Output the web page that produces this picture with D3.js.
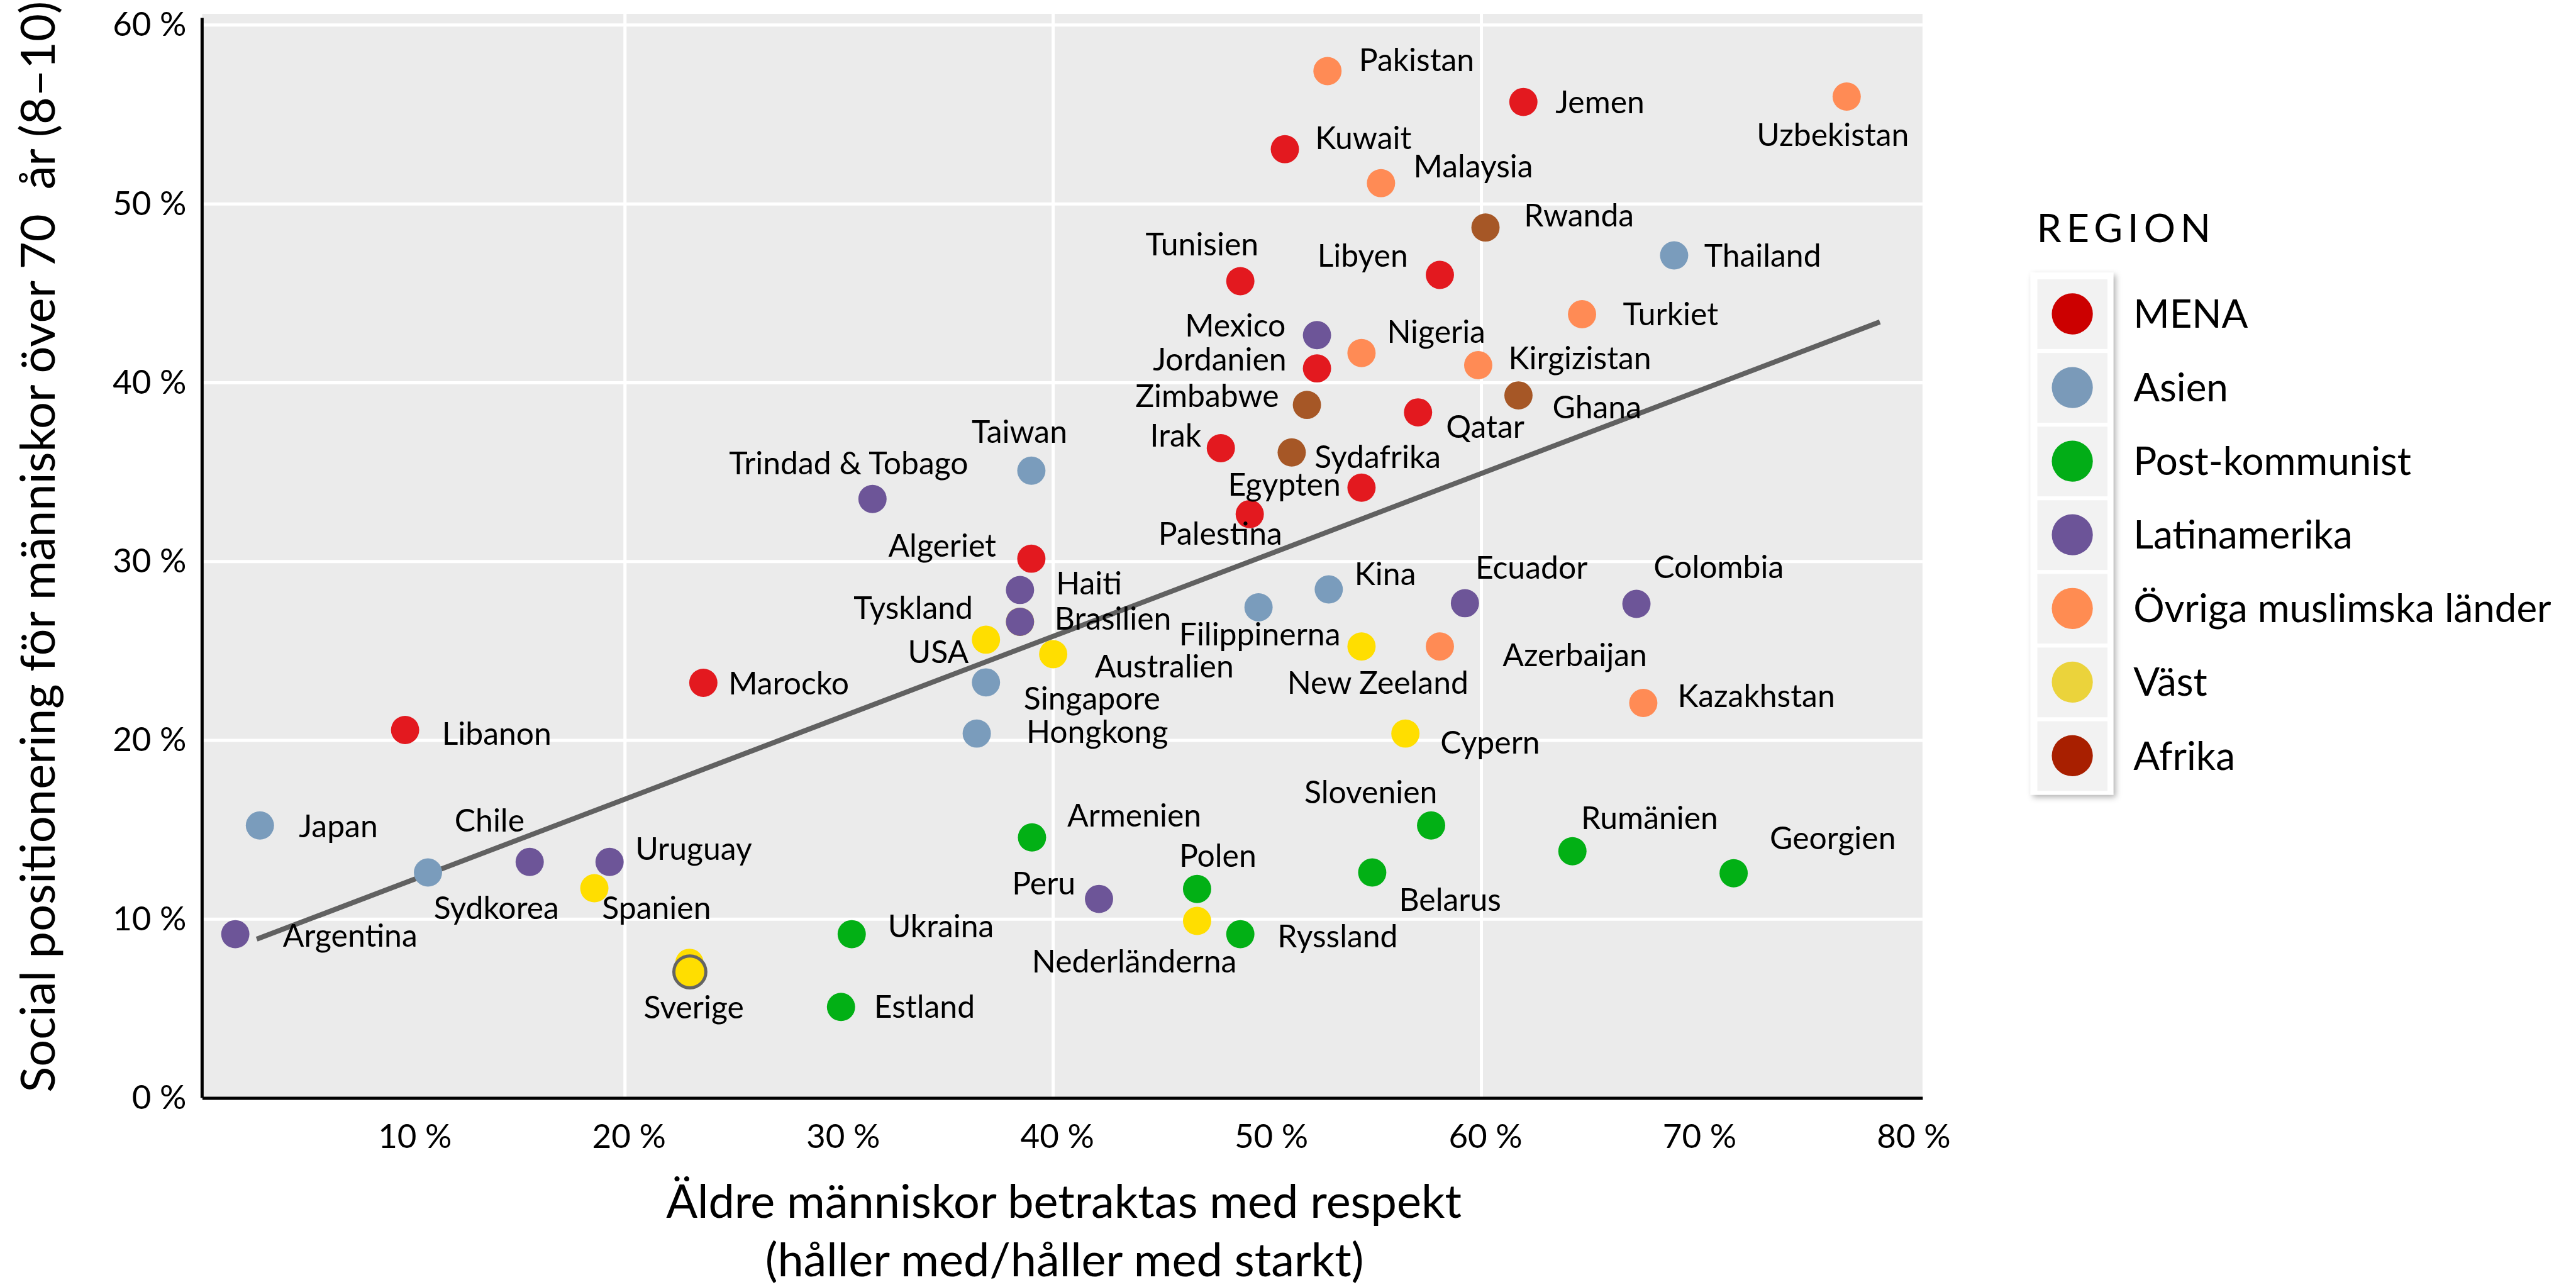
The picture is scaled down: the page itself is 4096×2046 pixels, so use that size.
<!DOCTYPE html>
<html>
<head>
<meta charset="utf-8">
<script src="https://cdn.jsdelivr.net/npm/d3@7"></script>
<style>
  body { margin: 0; background: #fff; }
  text { font-family: Lato, "Open Sans", sans-serif; fill: #000; }
</style>
</head>
<body>
<script>
// regions, legend order
var regions = ["MENA", "Asien", "Post-kommunist", "Latinamerika", "Övriga muslimska länder", "Väst", "Afrika"];
var pointColors = ["#e3191f", "#7a9cbc", "#02b015", "#6d5598", "#ff8b55", "#ffde00", "#a65726"];
var legendColors = ["#cc0000", "#7a9ab9", "#02ad17", "#6c5498", "#ff8c52", "#ebd33b", "#a81f00"];

// countries (Väst first so it sits underneath)
var countries = ["Tyskland", "USA", "Australien", "New Zeeland", "Cypern", "Spanien", "Nederländerna", "Sverige",
  "Kuwait", "Jemen", "Tunisien", "Libyen", "Jordanien", "Qatar", "Irak", "Egypten", "Palestina", "Algeriet", "Marocko", "Libanon",
  "Thailand", "Taiwan", "Filippinerna", "Kina", "Singapore", "Hongkong", "Japan", "Sydkorea",
  "Slovenien", "Armenien", "Rumänien", "Georgien", "Belarus", "Polen", "Ryssland", "Ukraina", "Estland",
  "Mexico", "Trindad & Tobago", "Haiti", "Brasilien", "Ecuador", "Colombia", "Peru", "Chile", "Uruguay", "Argentina",
  "Pakistan", "Uzbekistan", "Malaysia", "Turkiet", "Nigeria", "Kirgizistan", "Azerbaijan", "Kazakhstan",
  "Rwanda", "Zimbabwe", "Sydafrika", "Ghana"];
var regionOf = [5, 5, 5, 5, 5, 5, 5, 5,
  0, 0, 0, 0, 0, 0, 0, 0, 0, 0, 0, 0,
  1, 1, 1, 1, 1, 1, 1, 1,
  2, 2, 2, 2, 2, 2, 2, 2, 2,
  3, 3, 3, 3, 3, 3, 3, 3, 3, 3,
  4, 4, 4, 4, 4, 4, 4, 4,
  6, 6, 6, 6];
// x: äldre betraktas med respekt (%)
var respekt = [38.45, 36.86, 40.00, 54.40, 56.45, 18.57, 46.72, 23.01,
  50.82, 61.96, 48.74, 58.06, 52.32, 57.04, 47.83, 54.40, 49.18, 38.98, 23.66, 9.73,
  69.00, 38.98, 49.59, 52.87, 36.86, 36.43, 2.95, 10.80,
  57.65, 39.01, 64.25, 71.78, 54.90, 46.72, 48.74, 30.59, 30.09,
  52.32, 31.56, 38.45, 38.45, 59.23, 67.24, 42.14, 15.55, 19.28, 1.80,
  52.81, 77.06, 55.31, 64.70, 54.40, 59.85, 58.06, 67.56,
  60.19, 51.85, 51.14, 61.73];
// y: social positionering för människor över 70 år (%)
var positionering = [26.63, 25.63, 24.82, 25.25, 20.38, 11.73, 9.90, 7.56,
  53.06, 55.70, 45.68, 46.03, 40.80, 38.34, 36.34, 34.13, 32.65, 30.16, 23.22, 20.58,
  47.12, 35.08, 27.44, 28.44, 23.24, 20.38, 15.24, 12.61,
  15.24, 14.57, 13.80, 12.57, 12.61, 11.69, 9.16, 9.16, 5.09,
  42.66, 33.50, 28.41, 26.63, 27.67, 27.63, 11.13, 13.20, 13.20, 9.16,
  57.43, 56.00, 51.16, 43.83, 41.66, 40.98, 25.25, 22.09,
  48.68, 38.76, 36.10, 39.29];

var highlightX = [23.03];
var highlightY = [7.05];

var trendX = [2.80, 78.61];
var trendY = [8.88, 43.40];

var xTicks = [10, 20, 30, 40, 50, 60, 70, 80];
var xGrid = [20, 40, 60];
var yTicks = [0, 10, 20, 30, 40, 50, 60];

// label placement (offset of label centre from the point, reference px)
var labelPos = {
  "Pakistan": [142, -18], "Kuwait": [125, -18], "Malaysia": [147, -27], "Jemen": [122, 0],
  "Uzbekistan": [-22, 61], "Rwanda": [149, -20], "Tunisien": [-61, -59], "Libyen": [-123, -31],
  "Thailand": [141, 0], "Turkiet": [141, 0], "Mexico": [-130, -16], "Nigeria": [119, -34],
  "Kirgizistan": [162, -11], "Jordanien": [-155, -15], "Zimbabwe": [-159, -15], "Ghana": [125, 19],
  "Qatar": [107, 23], "Irak": [-72, -20], "Sydafrika": [137, 7], "Taiwan": [-19, -62],
  "Trindad & Tobago": [-38, -57], "Egypten": [-123, -5], "Palestina": [-47, 31], "Algeriet": [-142, -21],
  "Kina": [90, -25], "Ecuador": [106, -57], "Colombia": [131, -59], "Haiti": [110, -11],
  "Tyskland": [-170, -22], "Brasilien": [148, -5], "Filippinerna": [2, 43], "USA": [-76, 19],
  "Australien": [177, 19], "Singapore": [169, 25], "Hongkong": [192, -3], "New Zeeland": [26, 58],
  "Azerbaijan": [215, 13], "Cypern": [135, 14], "Kazakhstan": [180, -11], "Slovenien": [-96, -53],
  "Armenien": [163, -35], "Rumänien": [123, -53], "Georgien": [158, -56], "Polen": [33, -53],
  "Peru": [-88, -25], "Belarus": [124, 43], "Ukraina": [142, -13], "Ryssland": [155, 3],
  "Nederländerna": [-100, 64], "Estland": [133, -1], "Marocko": [136, 1], "Libanon": [146, 6],
  "Japan": [125, 1], "Chile": [-64, -66], "Uruguay": [134, -21], "Sydkorea": [109, 56],
  "Spanien": [99, 31], "Argentina": [183, 2], "Sverige": [7, 71]
};

var S = 0.998;
var labelSize = 50;

var svg = d3.select("body").append("svg")
  .attr("width", 4096)
  .attr("height", 2046);

var defs = svg.append("defs");
var shadow = defs.append("filter").attr("id", "shadow")
  .attr("x", "-20%").attr("y", "-5%").attr("width", "150%").attr("height", "115%");
shadow.append("feDropShadow")
  .attr("dx", 4).attr("dy", 4).attr("stdDeviation", 5)
  .attr("flood-color", "#000").attr("flood-opacity", 0.3);

var root = svg.append("g").attr("transform", "scale(" + S + ")");

var x = d3.scaleLinear().domain([0.25, 80.6]).range([322, 3063]);
var y = d3.scaleLinear().domain([0, 60.63]).range([1749, 22]);

// panel
root.append("rect")
  .attr("x", x(0.25)).attr("y", y(60.63))
  .attr("width", x(80.6) - x(0.25)).attr("height", y(0) - y(60.63))
  .attr("fill", "#ebebeb");

// grid
root.append("g").selectAll("line").data(yTicks.slice(1)).join("line")
  .attr("x1", x(0.25)).attr("x2", x(80.6))
  .attr("y1", function(d) { return y(d); }).attr("y2", function(d) { return y(d); })
  .attr("stroke", "#fff").attr("stroke-width", 5);
root.append("g").selectAll("line").data(xGrid).join("line")
  .attr("x1", function(d) { return x(d); }).attr("x2", function(d) { return x(d); })
  .attr("y1", y(60.63)).attr("y2", y(0))
  .attr("stroke", "#fff").attr("stroke-width", 5);

// axes
var yAxis = d3.axisLeft(y).tickValues(yTicks).tickSize(0).tickSizeOuter(0).tickPadding(25)
  .tickFormat(function(d) { return d + " %"; });
var yg = root.append("g").attr("transform", "translate(" + x(0.25) + ",0)").call(yAxis);
yg.select(".domain").attr("d", "M0," + y(0) + "V" + y(60.4)).attr("stroke", "#000").attr("stroke-width", 5);
yg.selectAll("text").attr("font-size", 53).attr("font-family", "Lato").attr("fill", "#000");

var xAxis = d3.axisBottom(x).tickValues(xTicks).tickSize(0).tickSizeOuter(0).tickPadding(42)
  .tickFormat(function(d) { return d + " %"; });
var xg = root.append("g").attr("transform", "translate(0," + y(0) + ")").call(xAxis);
xg.select(".domain").attr("stroke", "#000").attr("stroke-width", 5);
xg.selectAll("text").attr("font-size", 53).attr("font-family", "Lato").attr("fill", "#000").attr("dx", 6);

// trend line
root.append("line")
  .attr("x1", x(trendX[0])).attr("y1", y(trendY[0]))
  .attr("x2", x(trendX[1])).attr("y2", y(trendY[1]))
  .attr("stroke", "#616161").attr("stroke-width", 8);

// points
var idx = d3.range(countries.length);
root.append("g").selectAll("circle").data(idx).join("circle")
  .attr("cx", function(i) { return x(respekt[i]); })
  .attr("cy", function(i) { return y(positionering[i]); })
  .attr("r", 22.5)
  .attr("fill", function(i) { return pointColors[regionOf[i]]; });

// highlighted Sverige
root.append("g").selectAll("circle").data(highlightX).join("circle")
  .attr("cx", function(d) { return x(d); })
  .attr("cy", function(d, i) { return y(highlightY[i]); })
  .attr("r", 25.5)
  .attr("fill", pointColors[5])
  .attr("stroke", "#646464").attr("stroke-width", 5);

// labels
root.append("g").selectAll("text").data(idx).join("text")
  .attr("x", function(i) { return x(respekt[i]) + labelPos[countries[i]][0]; })
  .attr("y", function(i) { return y(positionering[i]) + labelPos[countries[i]][1] + 0.358 * labelSize; })
  .attr("text-anchor", "middle")
  .attr("font-size", labelSize)
  .text(function(i) { return countries[i]; });

// axis titles
root.append("text")
  .attr("transform", "translate(87.5," + 871 + ") rotate(-90)")
  .attr("text-anchor", "middle")
  .attr("font-size", 76)
  .style("white-space", "pre")
  .text("Social positionering för människor över 70  år (8–10)");

root.append("text")
  .attr("x", 1695).attr("y", 1940)
  .attr("text-anchor", "middle")
  .attr("font-size", 74)
  .text("Äldre människor betraktas med respekt");
root.append("text")
  .attr("x", 1696).attr("y", 2033)
  .attr("text-anchor", "middle")
  .attr("font-size", 74)
  .text("(håller med/håller med starkt)");

// legend
var legend = root.append("g").attr("transform", "translate(3235,434)");
root.append("text")
  .attr("x", 3245).attr("y", 386)
  .attr("font-size", 63)
  .attr("letter-spacing", 8)
  .text("REGION");
legend.append("rect")
  .attr("width", 132).attr("height", 832)
  .attr("fill", "#fff")
  .attr("filter", "url(#shadow)");
var keys = legend.selectAll("g.key").data(regions).join("g")
  .attr("class", "key")
  .attr("transform", function(d, i) { return "translate(0," + (i * 117.3) + ")"; });
keys.append("rect")
  .attr("x", 11).attr("y", 11)
  .attr("width", 111.7).attr("height", 111)
  .attr("fill", "#f2f2f2");
keys.append("circle")
  .attr("cx", 66.7).attr("cy", 66)
  .attr("r", 32.7)
  .attr("fill", function(d, i) { return legendColors[i]; });
keys.append("text")
  .attr("x", 164).attr("y", 66 + 0.358 * 62)
  .attr("font-size", 62)
  .text(function(d) { return d; });
</script>
</body>
</html>
